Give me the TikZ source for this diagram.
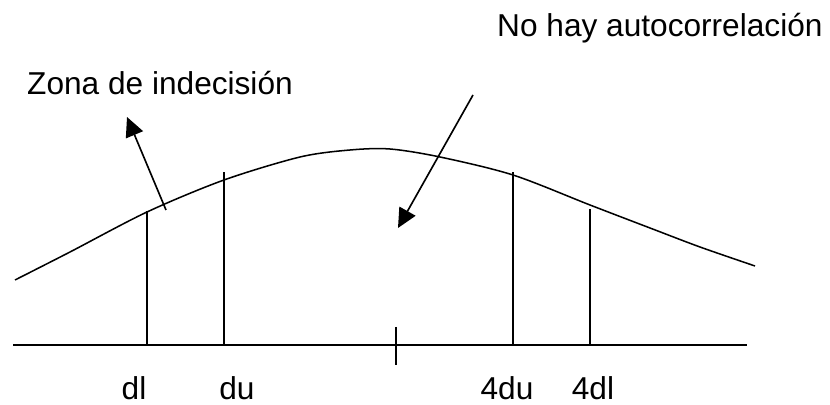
\documentclass[tikz,border=0pt]{standalone}
\usepackage{fontspec}
\setmainfont{Liberation Sans}
\usetikzlibrary{arrows.meta}
\begin{document}
\begin{tikzpicture}[x=0.03cm, y=-0.03cm,
    linea/.style={line width=1.3pt},
    flecha/.style={line width=1.4pt, -{Triangle[length=0.58cm, width=0.55cm]}},
    etiqueta/.style={font=\fontsize{27}{30}\selectfont, inner sep=0pt}]
    \useasboundingbox (0,0) rectangle (830,405);

    % Curva
    \draw[linea] plot[smooth] coordinates {(15,280) (70,252) (147,212) (224,180)
        (300,157) (350,150) (390,149) (440,157) (513,175) (590,205) (650,228)
        (700,247) (755,266)};

    % Eje
    \coordinate (ejeizq) at (13,345);
    \coordinate (ejeder) at (747,345);
    \draw[linea] (ejeizq) -- (ejeder);
    \coordinate (marcaarr) at (396,327);
    \coordinate (marcaab) at (396,365);
    \draw[linea] (marcaarr) -- (marcaab);

    % Limites
    \coordinate (dlab) at (147,345);   \coordinate (dlarr) at (147,211);
    \coordinate (duab) at (224,345);   \coordinate (duarr) at (224,172);
    \coordinate (cduab) at (513,345);  \coordinate (cduarr) at (513,172);
    \coordinate (cdlab) at (590,345);  \coordinate (cdlarr) at (590,209);
    \draw[linea] (dlab) -- (dlarr);
    \draw[linea] (duab) -- (duarr);
    \draw[linea] (cduab) -- (cduarr);
    \draw[linea] (cdlab) -- (cdlarr);

    % Etiquetas
    \node[etiqueta, anchor=base] (dl) at (134,400) {dl};
    \node[etiqueta, anchor=base] (du) at (237,400) {du};
    \node[etiqueta, anchor=base] (cdu) at (507,400) {4du};
    \node[etiqueta, anchor=base] (cdl) at (593,400) {4dl};

    % Textos
    \node[etiqueta, anchor=base west] (nohay) at (497,37) {No hay autocorrelaci\'on};
    \node[etiqueta, anchor=base west] (zona) at (27,95) {Zona de indecisi\'on};

    % Flechas
    \coordinate (zonaini) at (166,210);
    \coordinate (zonafin) at (127,117);
    \draw[flecha] (zonaini) -- (zonafin);
    \coordinate (nohayini) at (473,95);
    \coordinate (nohayfin) at (398,228);
    \draw[flecha] (nohayini) -- (nohayfin);
\end{tikzpicture}
\end{document}
